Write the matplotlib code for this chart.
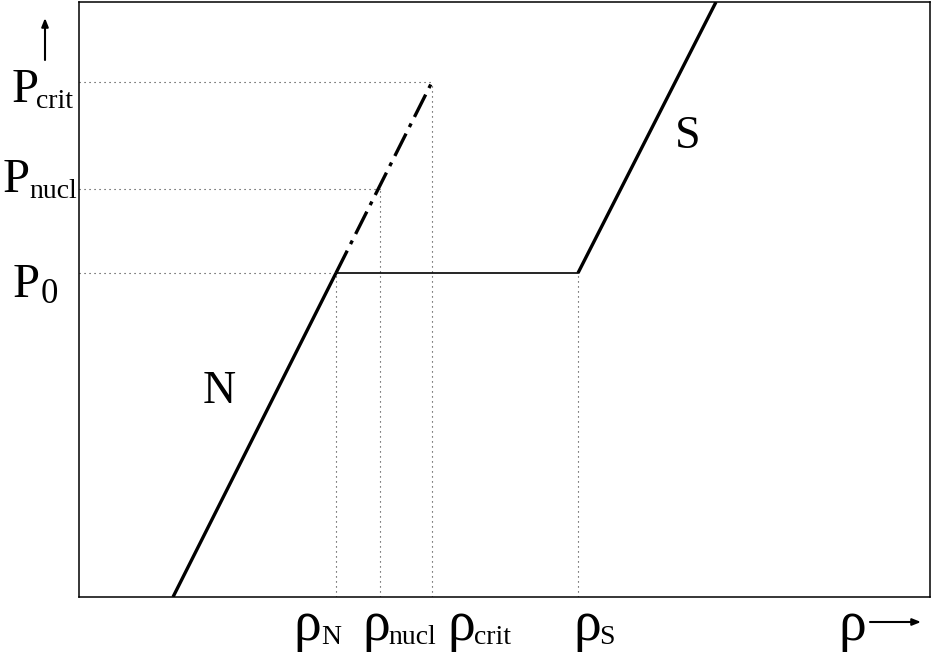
import matplotlib
matplotlib.use("Agg")
import matplotlib.pyplot as plt

plt.rcParams["font.family"] = ["Liberation Serif", "DejaVu Serif"]

# densities (x) and pressures (y) of the phase diagram, in plot units
rho_names = ["N", "nucl", "crit", "S"]
rho_vals = [257, 301, 353, 499]
p_names = ["0", "nucl", "crit"]
p_vals = [324, 408, 515]

# N branch, metastable part and S branch end points
n_line_x = [94, 257]
n_line_y = [0, 324]
meta_x = [257, 353]
meta_y = [324, 515]
s_line_x = [499, 637]
s_line_y = [324, 595]

XMAX, YMAX = 851, 595

fig = plt.figure(figsize=(9.32, 6.54), dpi=100)
ax = fig.add_axes([79 / 932, 57 / 654, 851 / 932, 595 / 654])
ax.set_xlim(0, XMAX)
ax.set_ylim(0, YMAX)
ax.set_xticks([])
ax.set_yticks([])
for sp in ax.spines.values():
    sp.set_linewidth(1.1)

dot = dict(color="#333333", lw=0.8, linestyle=(0, (1, 3.5)))

# dotted guide lines
p_x = [rho_vals[0], rho_vals[1], rho_vals[2]]
for px, pv in zip(p_x, p_vals):
    ax.plot([0, px], [pv, pv], **dot)
for rx, ry in zip(rho_vals, [p_vals[0], p_vals[1], p_vals[2], p_vals[0]]):
    ax.plot([rx, rx], [0, ry], **dot)

# branches
ax.plot(n_line_x, n_line_y, color="black", lw=2.4, solid_capstyle="butt")
ax.plot(meta_x, meta_y, color="black", lw=2.4,
        linestyle=(0, (7.5, 2.2, 1.2, 2.2)))
ax.plot([rho_vals[0], rho_vals[3]], [p_vals[0], p_vals[0]],
        color="black", lw=1.2)
ax.plot(s_line_x, s_line_y, color="black", lw=2.4, solid_capstyle="butt")

ax.text(124, 194, "N", fontsize=33, ha="left", va="baseline")
ax.text(596, 449, "S", fontsize=33, ha="left", va="baseline")

txt = dict(ha="left", va="baseline", clip_on=False)

# pressure labels: main letter and subscript
p_left = [-66, -76, -67]
p_base = [300, 405, 495]
p_sub_left = [-38, -50, -43]
p_sub_size = [25, 20, 20]
for name, xl, yb, xs, fs in zip(p_names, p_left, p_base, p_sub_left, p_sub_size):
    ax.text(xl, yb, "P", fontsize=35, **txt)
    ax.text(xs, yb - 6, name, fontsize=fs, **txt)
ax.annotate("", xy=(-34, 579), xytext=(-34, 537), xycoords="data",
            arrowprops=dict(arrowstyle="-|>,head_length=0.5,head_width=0.2",
                            color="black", lw=1.5, shrinkA=0, shrinkB=0),
            annotation_clip=False)

# density labels
rho_left = [214, 283, 368, 494]
rho_sub_left = [242, 309, 395, 520]
for name, xl, xs in zip(rho_names, rho_left, rho_sub_left):
    ax.text(xl, -43, "ρ", fontsize=40, **txt)
    ax.text(xs, -47, name, fontsize=20, **txt)
ax.text(759, -43, "ρ", fontsize=40, **txt)
ax.annotate("", xy=(842, -25), xytext=(791, -25), xycoords="data",
            arrowprops=dict(arrowstyle="-|>,head_length=0.5,head_width=0.2",
                            color="black", lw=1.5, shrinkA=0, shrinkB=0),
            annotation_clip=False)

fig.savefig("out.png", dpi=100)
